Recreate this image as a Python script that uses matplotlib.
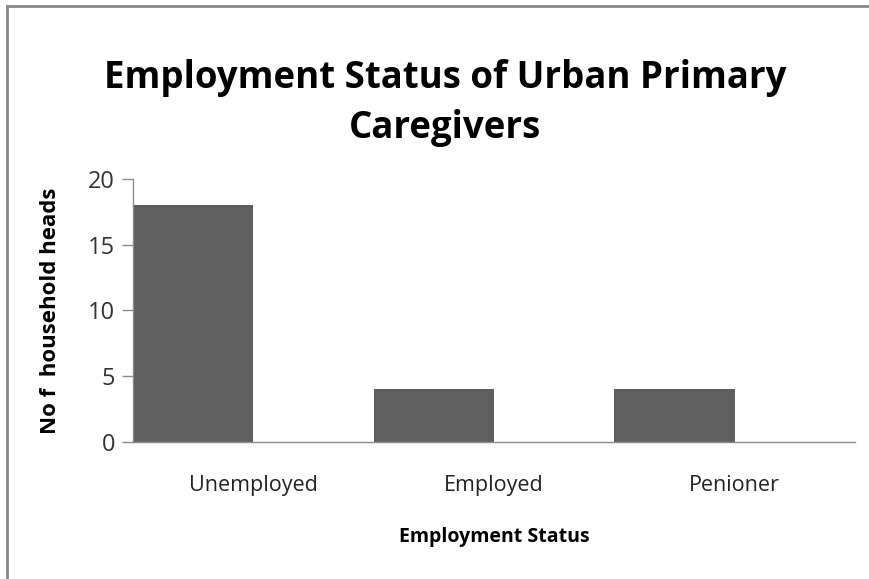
import matplotlib
matplotlib.use("Agg")
import matplotlib.pyplot as plt
from matplotlib.lines import Line2D

categories = ["Unemployed", "Employed", "Penioner"]
counts = [18, 4, 4]
yticks = [0, 5, 10, 15, 20]

BAR = "#5f5f5f"
AXIS = "#8c8c8c"
FONT = "Open Sans"

fig = plt.figure(figsize=(8.69, 5.79), dpi=100)
ax = fig.add_axes([0.153, 0.237, 0.831, 0.454])

x = list(range(len(categories)))
ax.bar(x, counts, width=0.5, align="edge", color=BAR, zorder=2)

ax.set_xlim(0, len(categories))
ax.set_ylim(0, 20)
ax.set_yticks(yticks)
ax.set_yticklabels([str(v) for v in yticks], fontsize=17, color="#333333",
                   family=FONT)
ax.set_xticks([i + 0.5 for i in x])
ax.set_xticklabels(categories, fontsize=15.5, color="#222222", family=FONT)
ax.tick_params(axis="x", length=0, pad=24)
ax.tick_params(axis="y", length=8, width=1, color=AXIS, pad=5, direction="out")

for s in ("top", "right"):
    ax.spines[s].set_visible(False)
for s in ("left", "bottom"):
    ax.spines[s].set_color(AXIS)
    ax.spines[s].set_linewidth(1)

ax.set_ylabel("No f  household heads", fontsize=16, fontweight="bold",
              family=FONT, labelpad=19)
ax.set_xlabel("Employment Status", fontsize=14, fontweight="bold",
              family=FONT, labelpad=22)

fig.text(0.512, 0.822, "Employment Status of Urban Primary\nCaregivers",
         ha="center", va="center", fontsize=26.4, fontweight="bold",
         family=FONT, linespacing=1.4)

# chart area border (top and left edges visible in the crop)
fig.add_artist(Line2D([0.0075, 0.0075], [0, 0.99], transform=fig.transFigure,
                      color="#8a8a8a", lw=2))
fig.add_artist(Line2D([0.0075, 1.0], [0.99, 0.99], transform=fig.transFigure,
                      color="#8a8a8a", lw=2))

fig.savefig("out.png", dpi=100)
